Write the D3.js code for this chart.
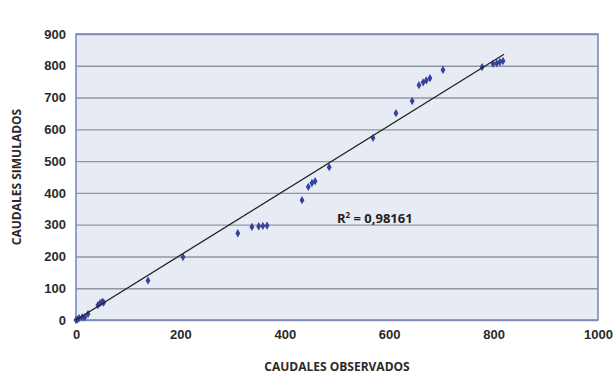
<!DOCTYPE html>
<html>
<head>
<meta charset="utf-8">
<script src="https://cdn.jsdelivr.net/npm/d3@7"></script>
<style>
  body { margin: 0; background: #fff; }
  svg { display: block; font-family: "Open Sans", "DejaVu Sans", sans-serif; }
</style>
</head>
<body>
<script>
// observed vs simulated flows
var observados = [0, 3, 6, 12, 17, 23, 42, 46, 50, 53, 138, 205, 310, 337, 350, 358, 366, 433, 445, 452, 458, 485, 569, 613, 644, 657, 665, 671, 678, 703, 778, 799, 806, 812, 818];
var simulados  = [0, 2, 6, 8, 9, 19, 47, 53, 57, 55, 124, 198, 273, 293, 295, 296, 297, 377, 419, 431, 437, 481, 573, 651, 689, 739, 748, 754, 761, 787, 796, 806, 808, 812, 815];
var xTicks = [0, 200, 400, 600, 800, 1000];
var yTicks = [0, 100, 200, 300, 400, 500, 600, 700, 800, 900];
var trend = [1.02, 0];   // slope, intercept
var trendRange = [0, 820];
var r2Label = "0,98161";

var margin = {top: 34, right: 18, bottom: 61, left: 76},
    width = 616 - margin.left - margin.right,
    height = 381 - margin.top - margin.bottom;

var x = d3.scaleLinear().domain([0, 1000]).range([0, width]);
var y = d3.scaleLinear().domain([0, 900]).range([height, 0]);

var svg = d3.select("body").append("svg")
    .attr("width", 616).attr("height", 381)
  .append("g")
    .attr("transform", "translate(" + margin.left + "," + margin.top + ")");

// plot area
svg.append("rect")
    .attr("width", width).attr("height", height)
    .attr("fill", "#e6ebf4");

// gridlines
svg.append("g")
    .call(d3.axisLeft(y).tickValues(yTicks).tickSize(-width).tickFormat(""))
    .call(function(g) { g.select(".domain").remove(); })
    .selectAll("line").attr("stroke", "#8f96a4").attr("stroke-width", 1.4);

svg.append("rect")
    .attr("width", width).attr("height", height)
    .attr("fill", "none").attr("stroke", "#7f89c0").attr("stroke-width", 1.6);

// axes labels
var xAxis = svg.append("g")
    .attr("transform", "translate(0," + height + ")")
    .call(d3.axisBottom(x).tickValues(xTicks).tickFormat(d3.format("d")).tickSize(0).tickPadding(10));
xAxis.select(".domain").remove();
xAxis.selectAll("text").style("font-size", "13px").style("font-weight", "600").attr("fill", "#2a2a2a");

var yAxis = svg.append("g")
    .call(d3.axisLeft(y).tickValues(yTicks).tickFormat(d3.format("d")).tickSize(0).tickPadding(10));
yAxis.select(".domain").remove();
yAxis.selectAll("text").style("font-size", "13px").style("font-weight", "600").attr("fill", "#2a2a2a");

// points
var data = observados.map(function(d, i) { return {o: d, s: simulados[i]}; });
svg.selectAll(".pt")
    .data(data)
    .enter().append("path")
    .attr("class", "pt")
    .attr("d", d3.symbol().type(d3.symbolDiamond).size(20))
    .attr("transform", function(d) { return "translate(" + x(d.o) + "," + y(d.s) + ")"; })
    .attr("fill", "#34439b");

// trend line
svg.append("line")
    .attr("x1", x(trendRange[0])).attr("y1", y(trend[0] * trendRange[0] + trend[1]))
    .attr("x2", x(trendRange[1])).attr("y2", y(trend[0] * trendRange[1] + trend[1]))
    .attr("stroke", "#222").attr("stroke-width", 1.3);

// R2 label
var r2 = svg.append("text")
    .attr("x", x(500)).attr("y", y(305))
    .style("font-size", "13px").style("font-weight", "bold").attr("fill", "#222");
r2.append("tspan").text("R");
r2.append("tspan").attr("dy", -5).style("font-size", "8px").text("2");
r2.append("tspan").attr("dy", 5).text(" = " + r2Label);

// axis titles
svg.append("text")
    .attr("x", width / 2).attr("y", height + 51)
    .attr("text-anchor", "middle")
    .style("font-size", "12px").style("font-weight", "bold").attr("fill", "#2a2a2a")
    .text("CAUDALES OBSERVADOS");

svg.append("text")
    .attr("transform", "rotate(-90)")
    .attr("x", -height / 2).attr("y", -margin.left + 21)
    .attr("text-anchor", "middle")
    .style("font-size", "12px").style("font-weight", "bold").attr("fill", "#2a2a2a")
    .text("CAUDALES SIMULADOS");
</script>
</body>
</html>
